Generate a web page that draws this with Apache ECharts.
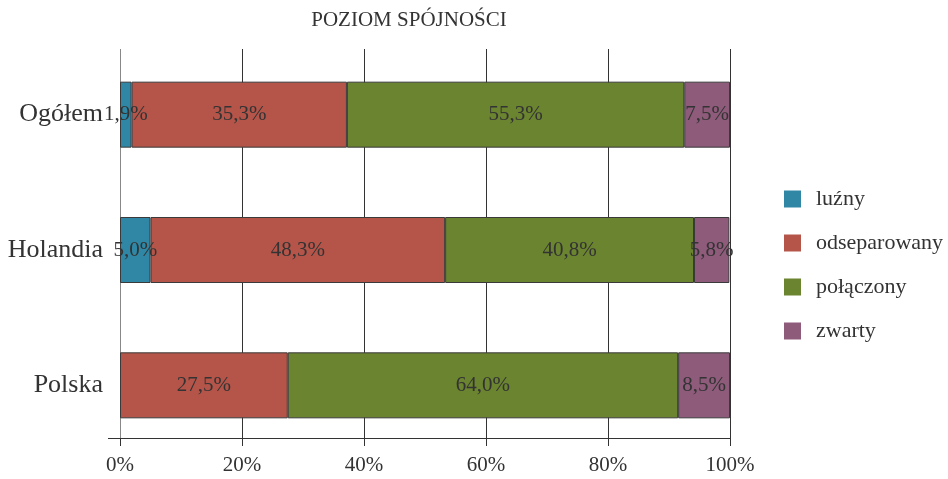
<!DOCTYPE html>
<html>
<head>
<meta charset="utf-8">
<script src="https://cdn.jsdelivr.net/npm/echarts@6/dist/echarts.min.js"></script>
<style>
  html, body { margin: 0; padding: 0; background: #fff; }
  #chart { width: 948px; height: 479px; }
</style>
</head>
<body>
<div id="chart"></div>
<script>
var categories = ["Ogółem", "Holandia", "Polska"];
var seriesNames = ["luźny", "odseparowany", "połączony", "zwarty"];
var luzny = [1.9, 5.0, 0];
var odseparowany = [35.3, 48.3, 27.5];
var polaczony = [55.3, 40.8, 64.0];
var zwarty = [7.5, 5.8, 8.5];
var colors = ["#2f87a5", "#b5554a", "#6b8430", "#8e5b7b"];

var FONT = "Liberation Serif";

function fmt(p) {
    if (!p.value) return "";
    return p.value.toFixed(1).replace(".", ",") + "%";
}

function makeSeries(name, values, color) {
    return {
        name: name,
        type: "bar",
        stack: "total",
        xAxisIndex: 1,
        yAxisIndex: 1,
        barWidth: 66,
        // zero values are not drawn at all
        data: values.map(v => (v === 0 ? "-" : v)),
        itemStyle: { color: color, borderColor: "#3a3a3a", borderWidth: 1 },
        label: {
            show: true,
            position: "inside",
            color: "#333",
            fontFamily: FONT,
            fontSize: 21,
            formatter: fmt
        }
    };
}

var myChart = echarts.init(document.getElementById("chart"));
var option = {
    animation: false,
    color: colors,
    textStyle: { fontFamily: FONT },
    title: {
        text: "POZIOM SPÓJNOŚCI",
        left: 404,
        top: 5,
        textAlign: "center",
        textStyle: { fontFamily: FONT, fontSize: 21, fontWeight: "normal", color: "#333" }
    },
    legend: {
        orient: "vertical",
        left: 779,
        top: 183,
        itemWidth: 17,
        itemHeight: 17,
        itemGap: 22,
        icon: "rect",
        data: seriesNames,
        itemStyle: { borderWidth: 0 },
        textStyle: { fontFamily: FONT, fontSize: 22, color: "#333", lineHeight: 17, padding: [0, 0, 0, 10] }
    },
    grid: [
        { left: 120, right: 218, top: 49, bottom: 41 },
        { left: 120, right: 218, top: 47, bottom: 26 }
    ],
    xAxis: [
        {
            gridIndex: 0,
            type: "value",
            min: 0,
            max: 100,
            interval: 20,
            axisLine: { show: true, lineStyle: { color: "#333", width: 1 } },
            axisTick: { show: true, length: 8, lineStyle: { color: "#333" } },
            splitLine: {
                show: true,
                lineStyle: { color: ["#888", "#333", "#333", "#333", "#333", "#333"], width: 1 }
            },
            axisLabel: {
                formatter: "{value}%",
                margin: 17,
                color: "#333",
                fontFamily: FONT,
                fontSize: 21
            }
        },
        { gridIndex: 1, type: "value", min: 0, max: 100, show: false }
    ],
    yAxis: [
        { gridIndex: 0, type: "value", show: false },
        {
            gridIndex: 1,
            type: "category",
            inverse: true,
            data: categories,
            axisLine: { show: false },
            axisTick: { show: false },
            axisLabel: { margin: 17, color: "#333", fontFamily: FONT, fontSize: 26 }
        }
    ],
    graphic: [{
        type: "line",
        shape: { x1: 108, y1: 438.5, x2: 120, y2: 438.5 },
        style: { stroke: "#333", lineWidth: 1 }
    }],
    series: [
        makeSeries(seriesNames[0], luzny, colors[0]),
        makeSeries(seriesNames[1], odseparowany, colors[1]),
        makeSeries(seriesNames[2], polaczony, colors[2]),
        makeSeries(seriesNames[3], zwarty, colors[3])
    ]
};
myChart.setOption(option);
</script>
</body>
</html>
